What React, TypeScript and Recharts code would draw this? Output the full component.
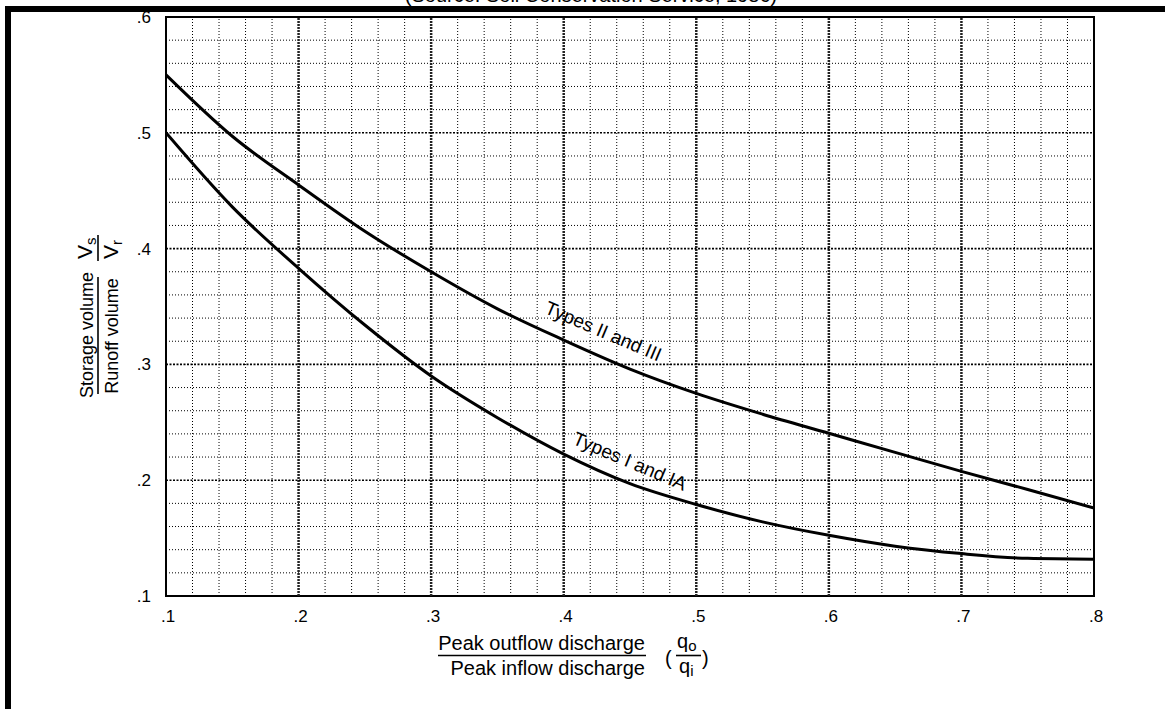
import React from "react";
import {
  LineChart,
  Line,
  XAxis,
  YAxis,
  ReferenceLine,
  ReferenceArea,
  ReferenceDot,
} from "recharts";

const FONT = "'Liberation Sans', Arial, Helvetica, sans-serif";

// Peak outflow / peak inflow discharge (qo/qi)
const flowRatio = [0.1, 0.15, 0.2, 0.25, 0.3, 0.35, 0.4, 0.45, 0.5, 0.55, 0.6, 0.65, 0.7, 0.75, 0.8];
// Storage volume / runoff volume (Vs/Vr), rainfall distribution Types II and III
const typesIIandIII = [0.55, 0.497, 0.455, 0.415, 0.38, 0.348, 0.321, 0.296, 0.275, 0.257, 0.2405, 0.224, 0.2076, 0.192, 0.176];
// Storage volume / runoff volume (Vs/Vr), rainfall distribution Types I and IA
const typesIandIA = [0.5, 0.436, 0.383, 0.334, 0.29, 0.254, 0.2225, 0.197, 0.179, 0.164, 0.1524, 0.143, 0.1366, 0.1325, 0.1318];

const xTicks = [0.1, 0.2, 0.3, 0.4, 0.5, 0.6, 0.7, 0.8];
const yTicks = [0.1, 0.2, 0.3, 0.4, 0.5, 0.6];

// Curve annotations: [qo/qi, Vs/Vr, text]
const curveLabels: [number, number, string][] = [
  [0.428, 0.3235, "Types II and III"],
  [0.448, 0.2112, "Types I and IA"],
];

const rows = flowRatio.map((q, i) => ({
  q,
  upper: typesIIandIII[i],
  lower: typesIandIA[i],
}));

// fine grid every 0.02, heavier lines every 0.1
const minorX: number[] = [];
for (let i = 6; i < 40; i++) if (i % 5 !== 0) minorX.push(i / 50);
const minorY: number[] = [];
for (let i = 6; i < 30; i++) if (i % 5 !== 0) minorY.push(i / 50);
const majorX = xTicks.slice(1, -1);
const majorY = yTicks.slice(1, -1);

const fmt = (v: number) => v.toFixed(1).replace(/^0/, "");

const XTick = (props: any) => {
  const { x, y, payload } = props;
  return (
    <text x={x + 2} y={y + 26} textAnchor="middle" fontFamily={FONT} fontSize={17} fill="#000">
      {fmt(payload.value)}
    </text>
  );
};

const YTick = (props: any) => {
  const { x, y, payload } = props;
  return (
    <text x={x} y={y + 6} textAnchor="end" fontFamily={FONT} fontSize={17} fill="#000">
      {fmt(payload.value)}
    </text>
  );
};

const LabelText = (props: any) => {
  const { cx, cy, text } = props;
  return (
    <text
      x={cx}
      y={cy}
      transform={`rotate(23 ${cx} ${cy})`}
      textAnchor="middle"
      fontFamily={FONT}
      fontSize={19}
      fill="#000"
    >
      {text}
    </text>
  );
};

export default function App() {
  return (
    <div
      style={{
        position: "absolute",
        left: 0,
        top: 0,
        width: 1165,
        height: 709,
        background: "#fff",
        overflow: "hidden",
        fontFamily: FONT,
      }}
    >
      <LineChart
        width={1165}
        height={709}
        data={rows}
        margin={{ top: 17, right: 71, bottom: 83, left: 0 }}
      >
        <XAxis
          dataKey="q"
          type="number"
          domain={[0.1, 0.8]}
          ticks={xTicks}
          axisLine={false}
          tickLine={false}
          tickSize={0}
          tickMargin={0}
          height={30}
          allowDataOverflow
          tick={<XTick />}
        />
        <YAxis
          type="number"
          domain={[0.1, 0.6]}
          ticks={yTicks}
          axisLine={false}
          tickLine={false}
          tickSize={0}
          tickMargin={15}
          width={166}
          allowDataOverflow
          tick={<YTick />}
        />
        {minorX.map((v) => (
          <ReferenceLine key={`mx${v}`} x={v} stroke="#000" strokeWidth={1} strokeDasharray="1 2" />
        ))}
        {minorY.map((v) => (
          <ReferenceLine key={`my${v}`} y={v} stroke="#000" strokeWidth={1} strokeDasharray="1 2" />
        ))}
        {majorX.map((v) => (
          <ReferenceLine key={`Mx${v}`} x={v} stroke="#222" strokeWidth={2.5} strokeDasharray="2 1" />
        ))}
        {majorY.map((v) => (
          <ReferenceLine key={`My${v}`} y={v} stroke="#000" strokeWidth={1.6} strokeDasharray="2 1.5" />
        ))}
        <ReferenceArea x1={0.1} x2={0.8} y1={0.1} y2={0.6} fill="none" stroke="#000" strokeWidth={2} />
        <Line
          dataKey="upper"
          type="monotone"
          stroke="#000"
          strokeWidth={3}
          dot={false}
          isAnimationActive={false}
        />
        <Line
          dataKey="lower"
          type="monotone"
          stroke="#000"
          strokeWidth={3}
          dot={false}
          isAnimationActive={false}
        />
        {curveLabels.map(([x, y, text]) => (
          <ReferenceDot
            key={text}
            x={x}
            y={y}
            r={0}
            shape={(p: any) => <LabelText {...p} text={text} />}
          />
        ))}
      </LineChart>

      {/* axis titles, source line and page frame */}
      <svg
        width={1165}
        height={709}
        style={{ position: "absolute", left: 0, top: 0, pointerEvents: "none" }}
        fontFamily={FONT}
      >
        <text x={591} y={2} textAnchor="middle" fontSize={20} fill="#000">
          (Source: Soil Conservation Service, 1986)
        </text>
        <rect x={5} y={6} width={1160} height={6} fill="#000" />
        <rect x={5} y={6} width={6} height={703} fill="#000" />

        {/* vertical axis title */}
        <g transform="rotate(-90)">
          <text x={-335} y={93} textAnchor="middle" fontSize={18} fill="#000">
            Storage volume
          </text>
          <text x={-336} y={118} textAnchor="middle" fontSize={18} fill="#000">
            Runoff volume
          </text>
          <text x={-259} y={92} textAnchor="start" fontSize={21} fill="#000">
            V<tspan fontSize={15} dy={4}>s</tspan>
          </text>
          <text x={-259} y={118} textAnchor="start" fontSize={21} fill="#000">
            V<tspan fontSize={15} dy={4}>r</tspan>
          </text>
        </g>
        <line x1={98} y1={277} x2={98} y2={394} stroke="#000" strokeWidth={1.6} />
        <line x1={98} y1={235} x2={98} y2={261} stroke="#000" strokeWidth={1.6} />

        {/* horizontal axis title */}
        <text x={645} y={650} textAnchor="end" fontSize={20} fill="#000">
          Peak outflow discharge
        </text>
        <line x1={438} y1={655.5} x2={646} y2={655.5} stroke="#000" strokeWidth={1.6} />
        <text x={645} y={675} textAnchor="end" fontSize={20} fill="#000">
          Peak inflow discharge
        </text>
        <text x={665} y={665} fontSize={20} fill="#000">(</text>
        <text x={677} y={648} fontSize={20} fill="#000">
          q<tspan fontSize={15} dy={3}>o</tspan>
        </text>
        <line x1={676} y1={655.5} x2={701} y2={655.5} stroke="#000" strokeWidth={1.6} />
        <text x={679} y={673} fontSize={20} fill="#000">
          q<tspan fontSize={15} dy={3}>i</tspan>
        </text>
        <text x={702} y={665} fontSize={20} fill="#000">)</text>
      </svg>
    </div>
  );
}
